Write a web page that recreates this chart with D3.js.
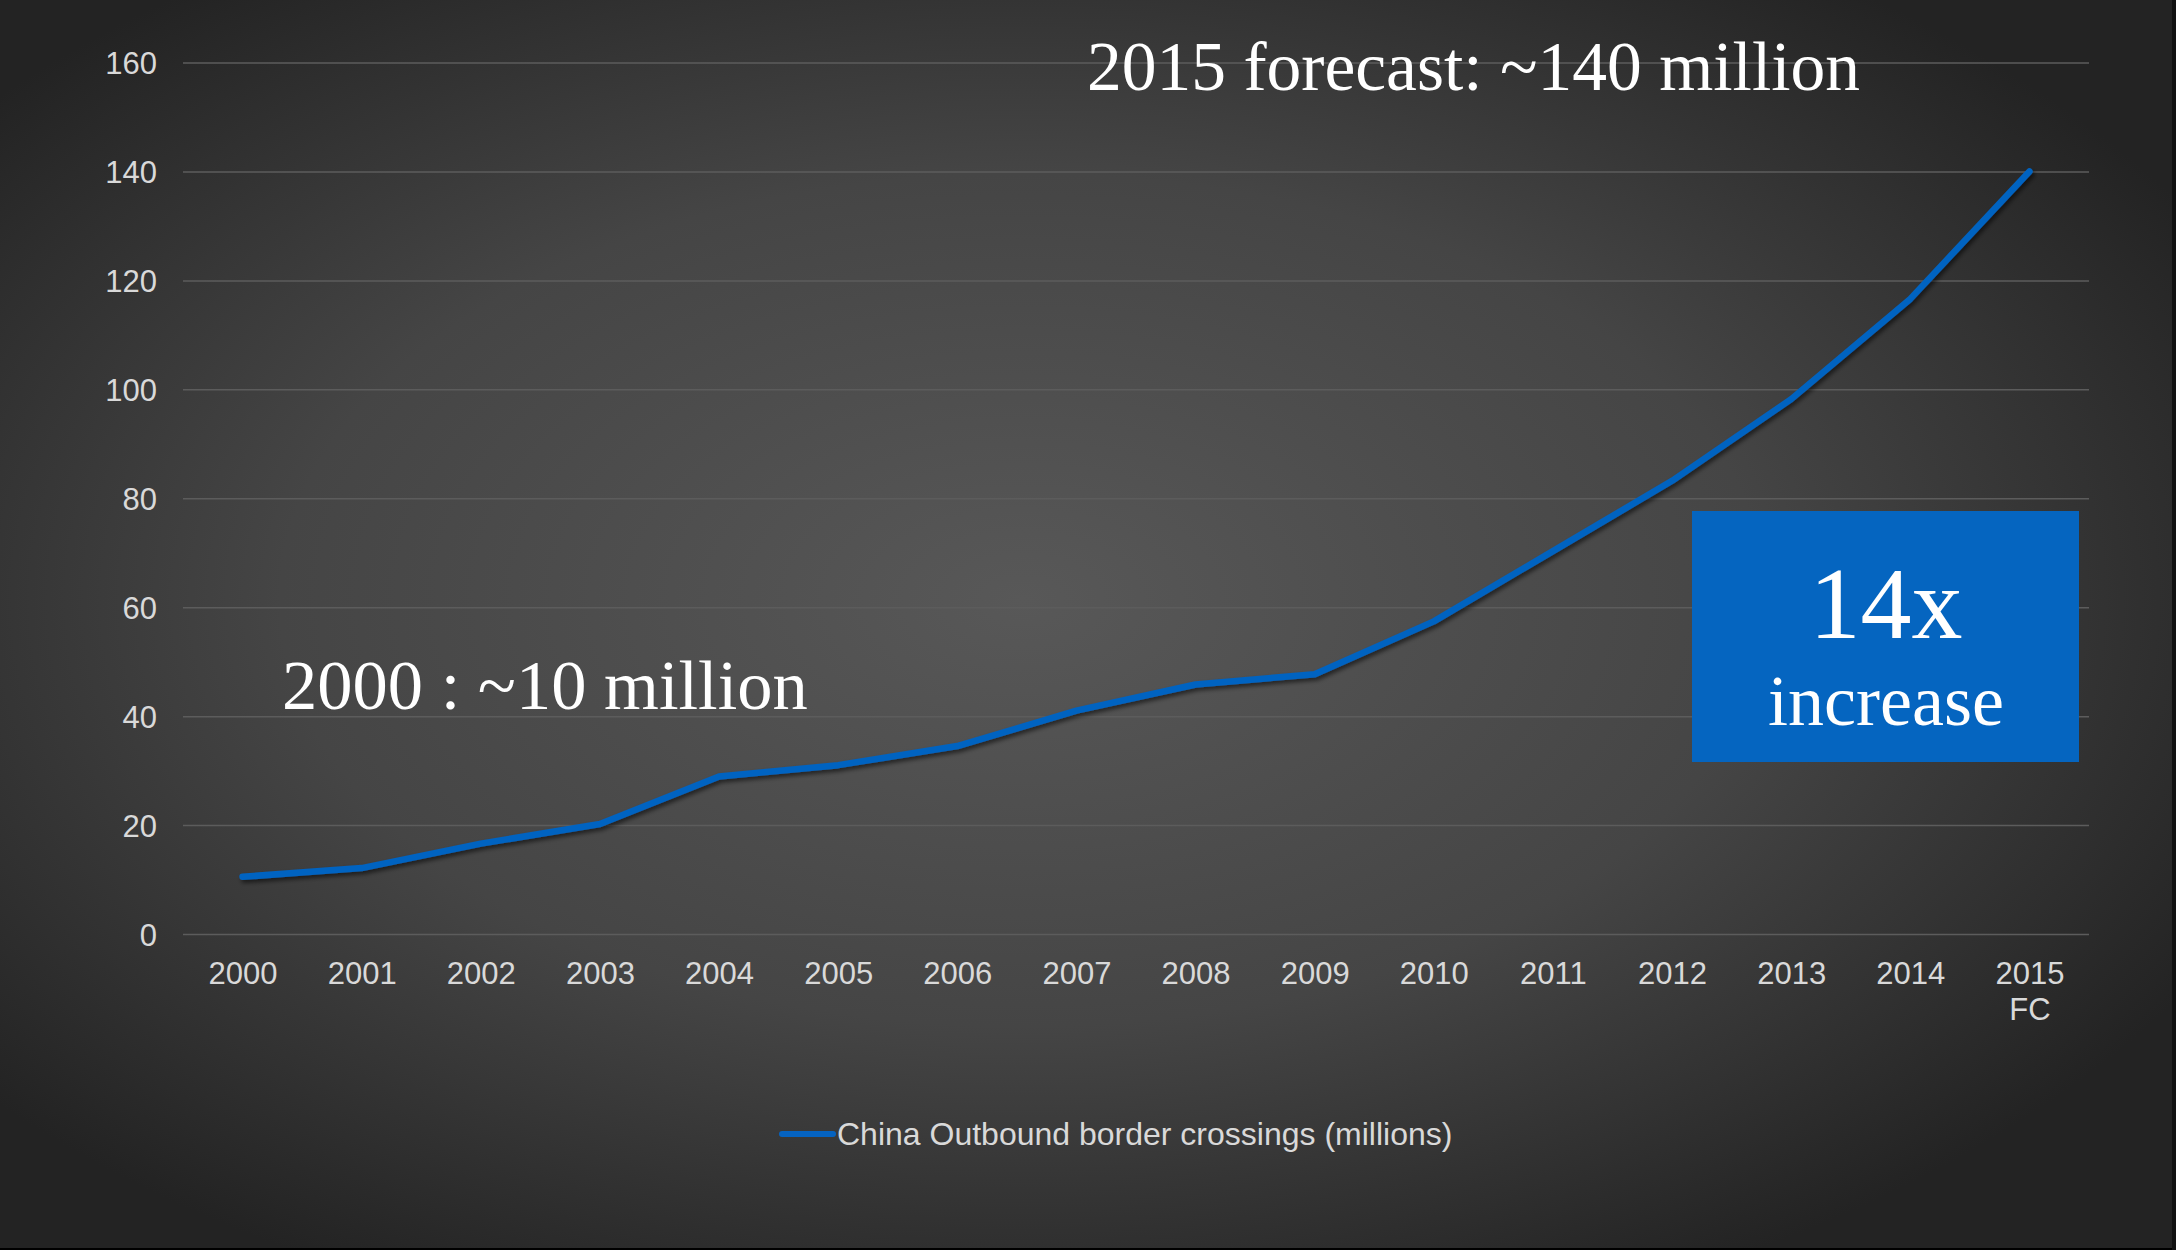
<html>
  <body style="margin:0;background:#222;">
    <style>
      .grid line { stroke: #5c5c5c; stroke-width: 1.5px; }
      .grid path { stroke-width: 0; }
      .axis text { fill: #d9d9d9; font-family: "Liberation Sans", Arial, sans-serif; font-size: 31px; }
      .axis path, .axis line { stroke: none; }
      .note { fill: #ffffff; font-family: "Liberation Serif", "DejaVu Serif", serif; }
      .line { fill: none; stroke: #0563c1; stroke-width: 6.5px; stroke-linejoin: round; stroke-linecap: round; }
    </style>
    <div id="chart"></div>
    <script src="https://d3js.org/d3.v7.min.js"></script>
    <script type="text/javascript">
      var years = ["2000", "2001", "2002", "2003", "2004", "2005", "2006", "2007",
                   "2008", "2009", "2010", "2011", "2012", "2013", "2014", "2015 FC"];
      var crossings = [10.5, 12.1, 16.6, 20.2, 28.9, 31.0, 34.5, 41.0,
                       45.8, 47.7, 57.4, 70.3, 83.2, 98.2, 116.6, 140];
      var yTicks = [0, 20, 40, 60, 80, 100, 120, 140, 160];
      var seriesName = "China Outbound border crossings (millions)";

      var W = 2176, H = 1250;
      var margin = {top: 62.5, right: 87, bottom: 316, left: 183},
          width = W - margin.left - margin.right,
          height = H - margin.top - margin.bottom;

      var svg = d3.select("#chart").append("svg")
        .attr("width", W).attr("height", H);

      // background
      var defs = svg.append("defs");
      var rg = defs.append("radialGradient").attr("id", "bg")
        .attr("cx", "47%").attr("cy", "48%").attr("r", "62%");
      rg.append("stop").attr("offset", "0%").attr("stop-color", "#585858");
      rg.append("stop").attr("offset", "55%").attr("stop-color", "#454545");
      rg.append("stop").attr("offset", "100%").attr("stop-color", "#232323");
      var f = defs.append("filter").attr("id", "shadow")
        .attr("x", "-5%").attr("y", "-5%").attr("width", "110%").attr("height", "115%");
      f.append("feDropShadow").attr("dx", 2).attr("dy", 3).attr("stdDeviation", 2)
        .attr("flood-color", "#000").attr("flood-opacity", 0.55);

      svg.append("rect").attr("width", W).attr("height", H).attr("fill", "url(#bg)");
      svg.append("rect").attr("x", 0).attr("y", H - 2).attr("width", W).attr("height", 2).attr("fill", "#000");
      svg.append("rect").attr("x", W - 4).attr("y", 0).attr("width", 4).attr("height", H).attr("fill", "#111");

      var g = svg.append("g")
        .attr("transform", "translate(" + margin.left + "," + margin.top + ")");

      var x = d3.scalePoint().domain(years).range([0, width]).padding(0.5);
      var y = d3.scaleLinear().domain([0, 160]).range([height, 0]);

      // gridlines
      g.append("g").attr("class", "grid")
        .call(d3.axisLeft(y).tickValues(yTicks).tickSize(-width).tickFormat(""));

      // y axis labels
      g.append("g").attr("class", "axis")
        .attr("transform", "translate(-26,0)")
        .call(d3.axisLeft(y).tickValues(yTicks).tickSize(0).tickPadding(0))
        .selectAll("text").attr("dy", "0.36em");

      // x axis labels (2015 label wraps onto two lines)
      var xa = g.append("g").attr("class", "axis")
        .attr("transform", "translate(0," + height + ")")
        .call(d3.axisBottom(x).tickSize(0).tickPadding(0));
      xa.selectAll("text").each(function(d) {
        var t = d3.select(this).text("").attr("y", null).attr("dy", null);
        d.split(" ").forEach(function(part, i) {
          t.append("tspan").attr("x", 0).attr("y", 50 + i * 36).text(part);
        });
      });

      // line
      var valueline = d3.line()
        .x(function(d, i) { return x(years[i]); })
        .y(function(d) { return y(d); });
      g.append("path").datum(crossings)
        .attr("class", "line")
        .attr("filter", "url(#shadow)")
        .attr("d", valueline);

      // annotations
      svg.append("text").attr("class", "note")
        .attr("x", 1087).attr("y", 90).attr("font-size", 69.5)
        .text("2015 forecast: ~140 million");
      svg.append("text").attr("class", "note")
        .attr("x", 282).attr("y", 709).attr("font-size", 70.5)
        .text("2000 : ~10 million");

      var box = svg.append("g");
      box.append("rect").attr("x", 1692).attr("y", 511).attr("width", 387).attr("height", 251)
        .attr("fill", "#0565c0");
      box.append("text").attr("class", "note")
        .attr("x", 1886).attr("y", 638).attr("text-anchor", "middle").attr("font-size", 102)
        .text("14x");
      box.append("text").attr("class", "note")
        .attr("x", 1886).attr("y", 725).attr("text-anchor", "middle").attr("font-size", 72)
        .text("increase");

      // legend
      var leg = svg.append("g").attr("transform", "translate(782,1134)");
      leg.append("line").attr("x1", 0).attr("x2", 51).attr("y1", 0).attr("y2", 0)
        .attr("stroke", "#0563c1").attr("stroke-width", 6).attr("stroke-linecap", "round");
      leg.append("text").attr("x", 55).attr("y", 11)
        .attr("fill", "#d9d9d9")
        .attr("font-family", "'Liberation Sans', Arial, sans-serif")
        .attr("font-size", 32)
        .text(seriesName);
    </script>
  </body>
</html>
